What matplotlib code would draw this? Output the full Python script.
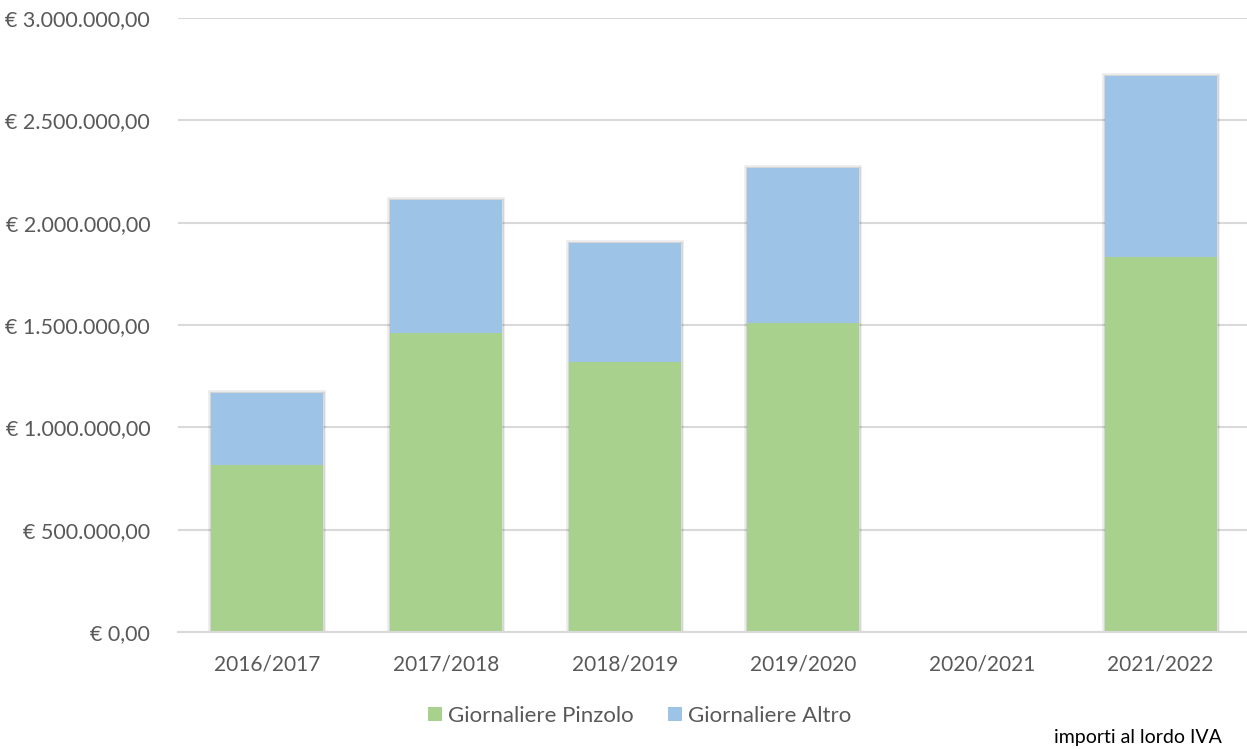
import matplotlib
matplotlib.use("Agg")
import matplotlib.pyplot as plt
import matplotlib.patheffects as pe
from matplotlib.ticker import FuncFormatter, MultipleLocator
from matplotlib.patches import Patch

seasons = ["2016/2017", "2017/2018", "2018/2019", "2019/2020", "2020/2021", "2021/2022"]
pinzolo = [817000, 1463000, 1320000, 1511000, 0, 1832000]
altro = [353000, 646000, 581000, 757000, 0, 886000]

GREEN = "#A9D18E"
BLUE = "#9DC3E6"
TEXT = "#595959"
GRID = "#D9D9D9"

plt.rcParams["font.family"] = ["Lato", "DejaVu Sans"]

fig = plt.figure(figsize=(12.47, 7.49), dpi=100)
ax = fig.add_axes([178 / 1247, 1 - 632 / 749, (1250 - 178) / 1247, (632 - 18) / 749])

x = list(range(len(seasons)))
width = 0.627
totals = [p + a for p, a in zip(pinzolo, altro)]

# soft shadow behind each full stack
shadow = [pe.Stroke(linewidth=4, foreground=(0, 0, 0, 0.08)),
          pe.Stroke(linewidth=2, foreground=(0, 0, 0, 0.10))]
sh = ax.bar(x, totals, width=width, color="white", zorder=2, linewidth=0)
for r in sh:
    if r.get_height() > 0:
        r.set_path_effects(shadow)
    else:
        r.set_visible(False)

ax.bar(x, pinzolo, width=width, color=GREEN, zorder=3, linewidth=0)
ax.bar(x, altro, width=width, bottom=pinzolo, color=BLUE, zorder=3, linewidth=0)

ax.set_xlim(-0.5, 5.5)
ax.set_ylim(0, 3000000)
ax.yaxis.set_major_locator(MultipleLocator(500000))


def euro(v, _):
    s = f"{v:,.2f}"
    s = s.replace(",", "X").replace(".", ",").replace("X", ".")
    return f"€ {s}"


ax.yaxis.set_major_formatter(FuncFormatter(euro))
ax.set_xticks(x)
ax.set_xticklabels(seasons)

ax.grid(axis="y", color=GRID, linewidth=1.5, zorder=0)
for s in ("top", "right", "left"):
    ax.spines[s].set_visible(False)
ax.spines["bottom"].set_color(GRID)
ax.spines["bottom"].set_linewidth(1.5)
ax.spines["bottom"].set_zorder(4)

ax.tick_params(axis="both", length=0, colors=TEXT)
ax.tick_params(axis="y", pad=20, labelsize=15.5)
ax.tick_params(axis="x", pad=16, labelsize=15)

handles = [Patch(facecolor=GREEN, label="Giornaliere Pinzolo"),
           Patch(facecolor=BLUE, label="Giornaliere Altro")]
leg = fig.legend(handles=handles, loc="center", bbox_to_anchor=(640 / 1247, 1 - 716 / 749),
                 ncol=2, frameon=False, fontsize=16, handlelength=0.6, handleheight=0.6,
                 handletextpad=0.3, columnspacing=1.55)
for t in leg.get_texts():
    t.set_color(TEXT)

fig.text(1222 / 1247, 1 - 738 / 749, "importi al lordo IVA", ha="right", va="center",
         fontsize=14, color="black")

fig.savefig("out.png", dpi=100, facecolor="white")
